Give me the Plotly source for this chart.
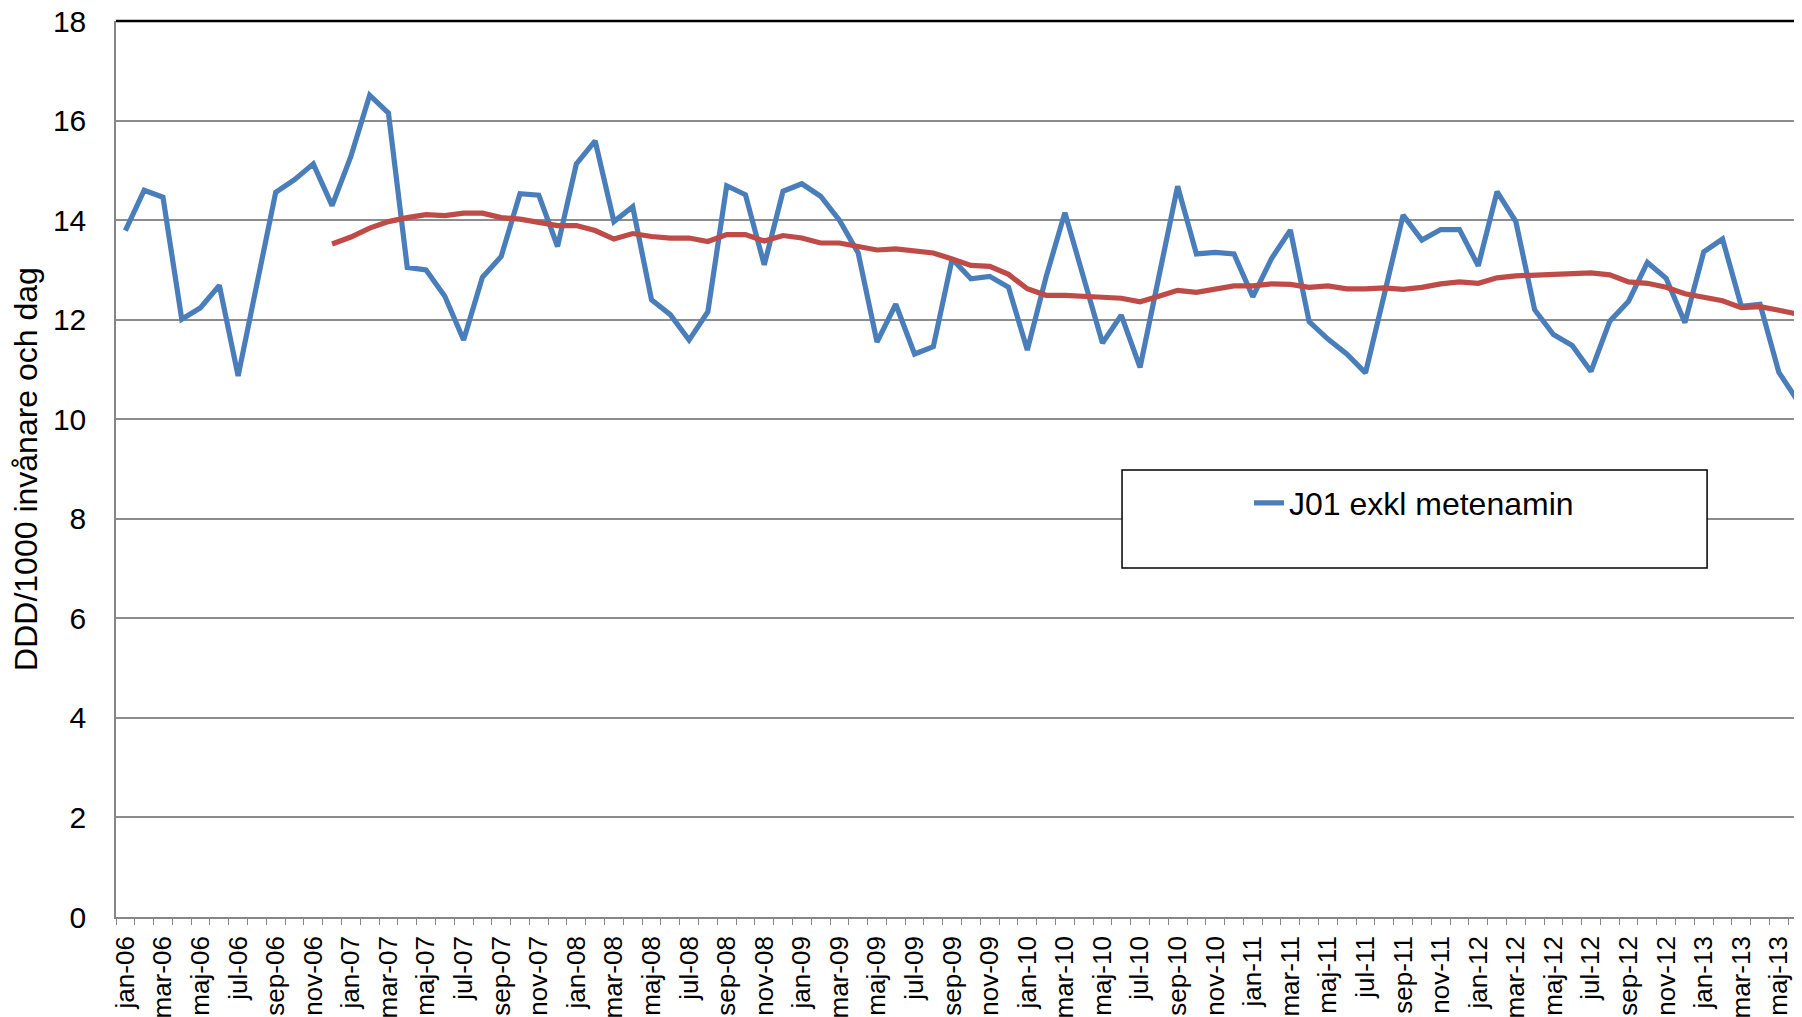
import plotly.graph_objects as go

months = ["jan", "feb", "mar", "apr", "maj", "jun", "jul", "aug", "sep", "okt", "nov", "dec"]
years = ["06", "07", "08", "09", "10", "11", "12", "13"]
categories = [f"{m}-{y}" for y in years for m in months][:90]

j01 = [13.79, 14.60, 14.46, 12.01, 12.24, 12.69, 10.87, 12.71, 14.56, 14.81, 15.13, 14.29,
       15.28, 16.51, 16.15, 13.05, 13.00, 12.47, 11.59, 12.85, 13.27, 14.53, 14.50, 13.47,
       15.13, 15.59, 13.97, 14.27, 12.40, 12.10, 11.59, 12.16, 14.69, 14.51, 13.10, 14.58,
       14.73, 14.48, 14.00, 13.34, 11.55, 12.31, 11.31, 11.46, 13.22, 12.82, 12.87, 12.65,
       11.39, 12.86, 14.15, 12.84, 11.53, 12.09, 11.04, 12.86, 14.68, 13.32, 13.35, 13.32,
       12.46, 13.23, 13.80, 11.96, 11.61, 11.31, 10.93, 12.51, 14.10, 13.60, 13.81, 13.81,
       13.08, 14.57, 13.97, 12.20, 11.70, 11.48, 10.96, 11.97, 12.37, 13.15, 12.83, 11.94,
       13.36, 13.62, 12.27, 12.31, 10.94, 10.37]

trend_start = 11
trend = [13.52, 13.66, 13.84, 13.97, 14.05, 14.11, 14.09, 14.14, 14.14, 14.05, 14.02, 13.96,
         13.89, 13.89, 13.79, 13.62, 13.73, 13.67, 13.64, 13.64, 13.57, 13.71, 13.71, 13.58,
         13.69, 13.64, 13.54, 13.54, 13.47, 13.40, 13.42, 13.39, 13.34, 13.22, 13.09, 13.07,
         12.91, 12.62, 12.49, 12.49, 12.46, 12.45, 12.43, 12.36, 12.47, 12.59, 12.55, 12.61,
         12.68, 12.68, 12.72, 12.71, 12.65, 12.68, 12.62, 12.62, 12.64, 12.61, 12.65, 12.72,
         12.76, 12.73, 12.84, 12.88, 12.90, 12.91, 12.93, 12.94, 12.90, 12.76, 12.73, 12.65,
         12.52, 12.45, 12.38, 12.24, 12.26, 12.19, 12.11]

y_ticks = [0, 2, 4, 6, 8, 10, 12, 14, 16, 18]

FONT = "Liberation Sans, Arial, sans-serif"
x_idx = list(range(len(categories)))

fig = go.Figure()
fig.add_trace(go.Scatter(
    x=x_idx, y=j01, mode="lines", name="J01 exkl metenamin",
    line=dict(color="#4A7EBB", width=5.2), showlegend=True))
fig.add_trace(go.Scatter(
    x=x_idx[trend_start:trend_start + len(trend)], y=trend, mode="lines",
    line=dict(color="#BE4B48", width=5.2), showlegend=False))

fig.update_layout(
    width=1802, height=1017,
    margin=dict(l=108, r=8, t=13, b=108),
    paper_bgcolor="white", plot_bgcolor="white",
    font=dict(family=FONT, size=30, color="black"),
    showlegend=True,
    legend=dict(x=0.672, y=0.462, xanchor="left", yanchor="middle",
                bgcolor="rgba(0,0,0,0)", borderwidth=0,
                font=dict(family=FONT, size=32, color="black")),
    shapes=[
        dict(type="rect", xref="paper", yref="paper", x0=0.5967, x1=0.9437,
             y0=0.3895, y1=0.4989, fillcolor="white",
             line=dict(color="black", width=1.5), layer="above"),
        dict(type="line", xref="paper", yref="paper", x0=0, x1=1, y0=1, y1=1,
             line=dict(color="black", width=2.5), layer="above"),
    ],
)

fig.update_xaxes(
    range=[-0.5, 89.23], automargin=False, ticklabeloverflow="allow",
    tickmode="array", tickvals=x_idx[::2], ticktext=categories[::2],
    tickangle=-90, ticks="", ticklabelstandoff=7,
    tickfont=dict(family=FONT, size=26, color="black"),
    showline=True, linecolor="#868686", linewidth=1.5,
    showgrid=False, zeroline=False,
    minor=dict(tickmode="linear", tick0=-0.5, dtick=1, ticks="outside",
               ticklen=6, tickcolor="#868686", tickwidth=1.2, showgrid=False),
)
fig.update_yaxes(
    range=[0, 18], automargin=False, ticklabeloverflow="allow",
    tickmode="array", tickvals=y_ticks,
    ticks="", ticklabelstandoff=22,
    tickfont=dict(family=FONT, size=30, color="black"),
    showline=True, linecolor="#868686", linewidth=1.5,
    showgrid=True, gridcolor="#8C8C8C", gridwidth=1.5, zeroline=False,
    title=dict(text="DDD/1000 invånare och dag", standoff=14,
               font=dict(family=FONT, size=32, color="black")),
)

fig.write_html("out.html")
